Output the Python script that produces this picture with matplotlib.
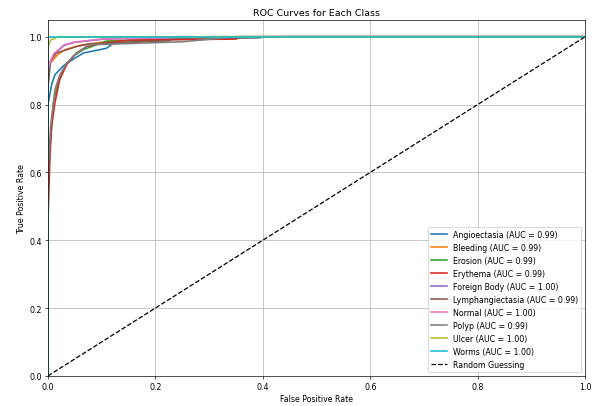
import matplotlib.pyplot as plt

# class names and AUC values as shown in the legend
classes = ["Angioectasia", "Bleeding", "Erosion", "Erythema", "Foreign Body",
           "Lymphangiectasia", "Normal", "Polyp", "Ulcer", "Worms"]
aucs = [0.99, 0.99, 0.99, 0.99, 1.00, 0.99, 1.00, 0.99, 1.00, 1.00]

# ROC points (fpr, tpr)
fpr_angio = [0.0, 0.0, 0.007, 0.013, 0.028, 0.035, 0.066, 0.109, 0.121, 0.2, 0.285, 0.45, 1.0]
tpr_angio = [0.0, 0.80, 0.86, 0.888, 0.913, 0.922, 0.952, 0.966, 0.98, 0.99, 0.994, 1.0, 1.0]

fpr_bleed = [0.0, 0.0, 0.003, 0.02, 0.032, 0.06, 0.12, 0.25, 0.35, 1.0]
tpr_bleed = [0.0, 0.85, 0.92, 0.95, 0.962, 0.975, 0.988, 0.993, 1.0, 1.0]

fpr_eros = [0.0, 0.0, 0.004, 0.01, 0.019, 0.032, 0.047, 0.066, 0.109, 0.2, 0.3, 1.0]
tpr_eros = [0.0, 0.55, 0.678, 0.805, 0.864, 0.913, 0.943, 0.962, 0.987, 0.99, 1.0, 1.0]

fpr_eryth = [0.0, 0.0, 0.004, 0.007, 0.013, 0.022, 0.035, 0.053, 0.072, 0.097, 0.15, 0.35, 0.36, 1.0]
tpr_eryth = [0.0, 0.45, 0.658, 0.737, 0.805, 0.874, 0.918, 0.952, 0.971, 0.98, 0.99, 0.993, 1.0, 1.0]

fpr_foreign = [0.0, 0.0, 0.005, 0.011, 0.03, 0.048, 0.104, 0.2, 0.44, 1.0]
tpr_foreign = [0.0, 0.90, 0.925, 0.948, 0.974, 0.983, 0.993, 0.996, 1.0, 1.0]

fpr_lymph = [0.0, 0.0, 0.005, 0.016, 0.053, 0.078, 0.227, 0.23, 0.395, 0.40, 1.0]
tpr_lymph = [0.0, 0.85, 0.93, 0.952, 0.971, 0.979, 0.988, 0.997, 0.997, 1.0, 1.0]

fpr_normal = [0.0, 0.0, 0.005, 0.011, 0.03, 0.048, 0.104, 0.3, 1.0]
tpr_normal = [0.0, 0.90, 0.93, 0.95, 0.976, 0.984, 0.994, 1.0, 1.0]

fpr_polyp = [0.0, 0.0, 0.005, 0.013, 0.022, 0.035, 0.053, 0.078, 0.25, 0.35, 1.0]
tpr_polyp = [0.0, 0.60, 0.737, 0.844, 0.888, 0.922, 0.952, 0.976, 0.985, 1.0, 1.0]

fpr_ulcer = [0.0, 0.0, 0.005, 0.02, 1.0]
tpr_ulcer = [0.0, 0.97, 0.99, 1.0, 1.0]

fpr_worms = [0.0, 0.0, 1.0]
tpr_worms = [0.0, 1.0, 1.0]

fprs = [fpr_angio, fpr_bleed, fpr_eros, fpr_eryth, fpr_foreign,
        fpr_lymph, fpr_normal, fpr_polyp, fpr_ulcer, fpr_worms]
tprs = [tpr_angio, tpr_bleed, tpr_eros, tpr_eryth, tpr_foreign,
        tpr_lymph, tpr_normal, tpr_polyp, tpr_ulcer, tpr_worms]

plt.rcParams['font.size'] = 9.4

plt.figure(figsize=(10, 6.705), dpi=60.7)
for i, name in enumerate(classes):
    plt.plot(fprs[i], tprs[i], lw=1.9, label=f'{name} (AUC = {aucs[i]:.2f})')

plt.plot([0, 1], [0, 1], 'k--', lw=1.5, label='Random Guessing')
plt.xlim([0.0, 1.0])
plt.ylim([0.0, 1.05])
plt.xlabel('False Positive Rate')
plt.ylabel('True Positive Rate')
plt.title('ROC Curves for Each Class', fontsize=11.3)
plt.legend(loc='lower right')
plt.grid(True)
plt.subplots_adjust(left=0.079, right=0.964, top=0.949, bottom=0.074)
plt.savefig('out.png', dpi=60.7)
